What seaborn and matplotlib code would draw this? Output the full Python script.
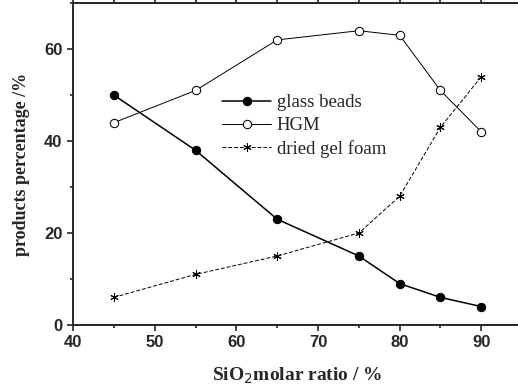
import matplotlib
matplotlib.use('Agg')
import matplotlib.pyplot as plt
import seaborn as sns
from matplotlib.ticker import MultipleLocator

# datos
sio2 = [45, 55, 65, 75, 80, 85, 90]
glass_beads = [50, 38, 23, 15, 9, 6, 4]
hgm = [44, 51, 62, 64, 63, 51, 42]
dried_gel_foam = [6, 11, 15, 20, 28, 43, 54]

sns.set_style("ticks")
plt.rcParams['font.family'] = ['Liberation Serif', 'DejaVu Serif']

fig = plt.figure(figsize=(5.18, 3.92), dpi=100)
ax = fig.add_axes([0.141, 0.171, 0.867, 0.821])

sns.lineplot(x=sio2, y=glass_beads, ax=ax, color='black', lw=1.1,
             marker='o', markersize=6, markerfacecolor='black',
             markeredgecolor='black', label='glass beads')
sns.lineplot(x=sio2, y=hgm, ax=ax, color='black', lw=0.7,
             marker='o', markersize=6, markerfacecolor='white',
             markeredgecolor='black', label='HGM')
sns.lineplot(x=sio2, y=dried_gel_foam, ax=ax, color='black', lw=0.7,
             linestyle=(0, (4, 2)), marker=(6, 2, 0), markersize=6,
             markeredgecolor='black', label='dried gel foam')

ax.set_xlim(40, 95)
ax.set_ylim(0, 70)
ax.xaxis.set_major_locator(MultipleLocator(10))
ax.xaxis.set_minor_locator(MultipleLocator(5))
ax.yaxis.set_major_locator(MultipleLocator(20))
ax.yaxis.set_minor_locator(MultipleLocator(10))
ax.tick_params(which='both', direction='out', top=True, right=True, width=1.2)
ax.tick_params(which='major', length=4)
ax.tick_params(which='minor', length=2.5)
for lbl in ax.get_xticklabels() + ax.get_yticklabels():
    lbl.set_family('Liberation Sans')
    lbl.set_fontweight('bold')
    lbl.set_fontsize(12)
for s in ax.spines.values():
    s.set_linewidth(1.4)
    s.set_visible(True)

ax.set_xlabel('SiO$_2$molar ratio / %', fontsize=14, fontweight='bold', labelpad=11)
ax.set_ylabel('products percentage /%', fontsize=13, fontweight='bold', labelpad=10)

ax.legend(loc='upper left', bbox_to_anchor=(0.316, 0.74), frameon=False,
          fontsize=13.5, handlelength=2.6, handletextpad=0.3, labelspacing=0.3,
          borderaxespad=0)

fig.savefig('out.png', dpi=100)
